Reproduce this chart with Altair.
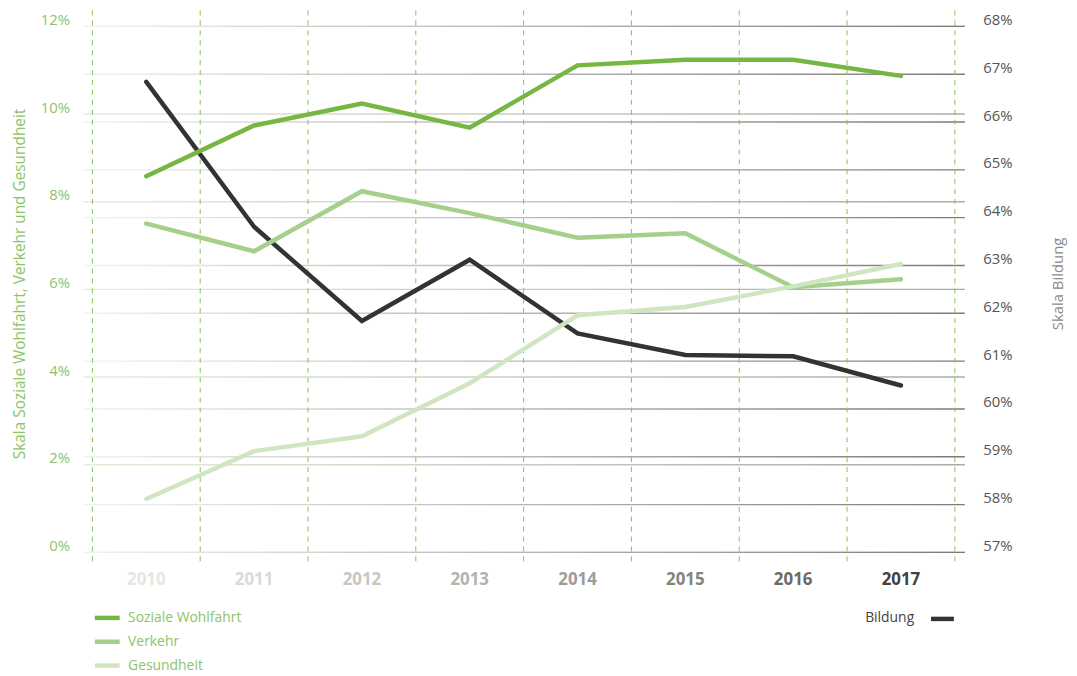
import altair as alt
import pandas as pd

# ---- data ----
years = [2010, 2011, 2012, 2013, 2014, 2015, 2016, 2017]
series_names = ["Soziale Wohlfahrt", "Verkehr", "Gesundheit"]
soziale_wohlfahrt = [8.58, 9.74, 10.24, 9.69, 11.11, 11.24, 11.24, 10.87]
verkehr = [7.50, 6.87, 8.24, 7.74, 7.18, 7.28, 6.05, 6.23]
gesundheit = [1.22, 2.31, 2.65, 3.86, 5.41, 5.60, 6.07, 6.58]
bildung = [66.84, 63.81, 61.84, 63.12, 61.58, 61.13, 61.10, 60.49]
bildung_name = "Bildung"

left_ticks = [0, 2, 4, 6, 8, 10, 12]
right_ticks = [57, 58, 59, 60, 61, 62, 63, 64, 65, 66, 67, 68]
left_title = "Skala Soziale Wohlfahrt, Verkehr und Gesundheit"
right_title = "Skala Bildung"

# ---- styles ----
series_colors = ["#76b642", "#a5d08b", "#d0e6c2"]
bildung_color = "#333333"
x_label_colors = ["#e4e7e1", "#d8dbd4", "#c6c8c1", "#b2b3ad", "#9d9d98", "#84847f", "#6a6a66", "#424242"]
green_text = "#8cc46a"
FONT = "Open Sans"
W, H = 888, 530

# ---- tables ----
rows = []
for name, vals in [("Verkehr", verkehr), ("Gesundheit", gesundheit), ("Soziale Wohlfahrt", soziale_wohlfahrt)]:
    for yr, v in zip(years, vals):
        rows.append({"Jahr": yr, "Serie": name, "Wert": v})
green_df = pd.DataFrame(rows)
bild_df = pd.DataFrame({"Jahr": years, "Wert": bildung})
year_df = pd.DataFrame({"Jahr": years, "Label": [str(y) for y in years]})
bounds_df = pd.DataFrame({"b": [y - 0.5 for y in years] + [years[-1] + 0.5]})

xscale = alt.Scale(domain=[2009.417, 2017.592], nice=False, zero=False)
yleft = alt.Scale(domain=[0, 12], nice=False, zero=False)
yright = alt.Scale(domain=[57, 68], nice=False, zero=False)

grad_left = alt.Gradient(gradient="linear", x1=0, x2=1, y1=0, y2=0,
                         stops=[alt.GradientStop(color="#e4efda", offset=0),
                                alt.GradientStop(color="#a9aaa4", offset=1)])
grad_right = alt.Gradient(gradient="linear", x1=0, x2=1, y1=0, y2=0,
                          stops=[alt.GradientStop(color="#f2f2f2", offset=0),
                                 alt.GradientStop(color="#7b7b7b", offset=1)])

left_grid = alt.Chart(pd.DataFrame({"t": left_ticks})).mark_rect(
    color=grad_left, yOffset=-0.7, y2Offset=0.7
).encode(
    x=alt.value(0), x2=alt.value(W),
    y=alt.Y("t:Q", scale=yleft, axis=alt.Axis(
        orient="left", values=left_ticks, labelExpr="datum.value + '%'",
        grid=False, domain=False, ticks=False, tickSize=0, labelPadding=14,
        labelColor=green_text, labelFontSize=15, labelFont=FONT,
        labelBaseline="alphabetic", labelOffset=-2,
        title=left_title, titleColor=green_text, titleFont=FONT, titleFontSize=15.5,
        titleFontWeight="normal", titleAngle=270, titleX=-64, titleY=259,
        titleAlign="center", titleBaseline="middle")),
    y2="t:Q",
)

right_grid = alt.Chart(pd.DataFrame({"t": right_ticks})).mark_rect(
    color=grad_right, yOffset=-0.7, y2Offset=0.7
).encode(
    x=alt.value(0), x2=alt.value(W),
    y=alt.Y("t:Q", scale=yright, axis=alt.Axis(
        orient="right", values=right_ticks, labelExpr="datum.value + '%'",
        grid=False, domain=False, ticks=False, tickSize=0, labelPadding=18,
        labelColor="#555555", labelFontSize=15, labelFont=FONT,
        labelBaseline="alphabetic", labelOffset=-2,
        title=right_title, titleColor="#8a8a8a", titleFont=FONT, titleFontSize=15,
        titleFontWeight="normal", titleAngle=270, titleX=93, titleY=259,
        titleAlign="center", titleBaseline="middle")),
    y2="t:Q",
)

dashed = alt.Chart(bounds_df).mark_rule(color="#86c157", strokeWidth=1, strokeDash=[5, 5]).encode(
    x=alt.X("b:Q", scale=xscale, axis=None),
    y=alt.value(-16), y2=alt.value(H + 11),
)

year_labels = alt.Chart(year_df).mark_text(
    font=FONT, fontSize=17, fontWeight="bold", baseline="middle", align="center"
).encode(
    x=alt.X("Jahr:Q", scale=xscale, axis=None),
    y=alt.value(H + 28),
    text="Label:N",
    color=alt.Color("Label:N", scale=alt.Scale(domain=[str(y) for y in years], range=x_label_colors),
                    legend=None),
)

bild_line = alt.Chart(bild_df).mark_line(color=bildung_color, strokeWidth=4.5, strokeCap="round").encode(
    x=alt.X("Jahr:Q", scale=xscale, axis=None),
    y=alt.Y("Wert:Q", scale=yright, axis=None),
)

green_lines = alt.Chart(green_df).mark_line(strokeWidth=4.5, strokeCap="round").encode(
    x=alt.X("Jahr:Q", scale=xscale, axis=None),
    y=alt.Y("Wert:Q", scale=yleft, axis=None),
    color=alt.Color("Serie:N", scale=alt.Scale(domain=series_names, range=series_colors),
                    legend=alt.Legend(orient="none", legendX=9, legendY=581, title=None,
                                      symbolType="stroke", symbolSize=625, symbolStrokeWidth=4.5,
                                      labelFont=FONT, labelFontSize=14, labelColor=green_text,
                                      labelOffset=6, rowPadding=0, padding=0)),
)

bild_leg_text = alt.Chart(pd.DataFrame({"n": [bildung_name]})).mark_text(
    align="right", baseline="middle", font=FONT, fontSize=14, color="#444444"
).encode(text="n:N", x=alt.value(837), y=alt.value(596))

bild_leg_sym = alt.Chart(pd.DataFrame({"n": [bildung_name]})).mark_rule(
    color=bildung_color, strokeWidth=4.5
).encode(x=alt.value(854), x2=alt.value(877), y=alt.value(597))

chart = alt.layer(
    left_grid, right_grid, dashed, year_labels, bild_line, green_lines, bild_leg_text, bild_leg_sym
).resolve_scale(y="independent", color="independent").properties(
    width=W, height=H,
    padding={"left": 76, "top": 16, "right": 105, "bottom": 122},
    autosize="none",
).configure_view(stroke=None)

chart.save("out.html", embed_options={"renderer": "svg", "actions": False})
